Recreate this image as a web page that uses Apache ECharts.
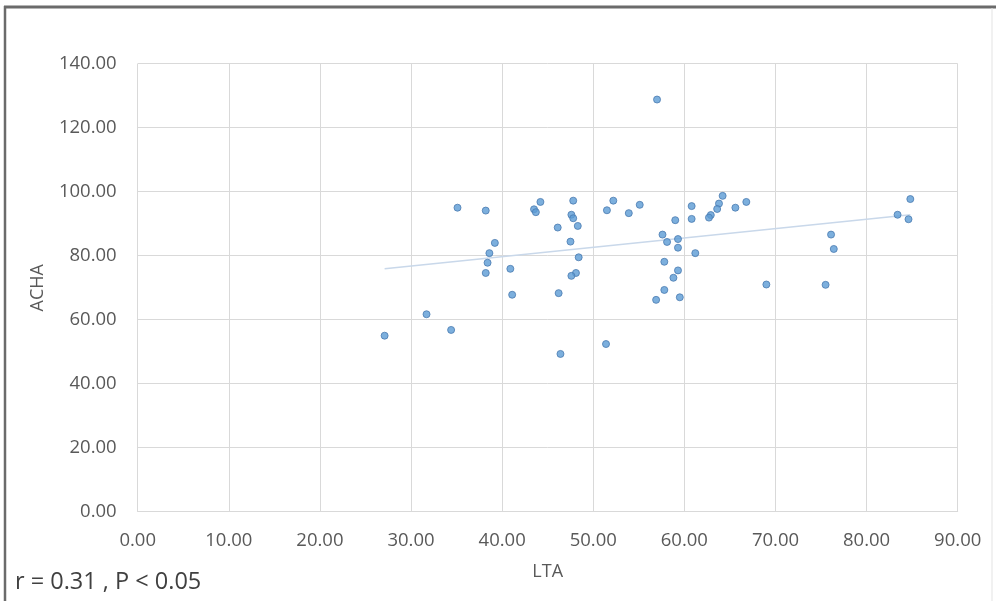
<!DOCTYPE html>
<html>
<head>
<meta charset="utf-8">
<script src="https://cdn.jsdelivr.net/npm/echarts@6/dist/echarts.min.js"></script>
<style>
  html, body { margin: 0; padding: 0; background: #ffffff; }
  #chart { width: 997px; height: 601px; }
</style>
</head>
<body>
<div id="chart"></div>
<script>
// LTA (x) values
const ltaValues = [
  35.1, 38.2, 39.2, 38.6, 38.4, 38.2, 40.9, 41.1, 31.7, 34.4,
  27.1, 43.5, 43.7, 44.2, 47.8, 47.6, 47.8, 48.3, 46.1, 47.5,
  48.4, 48.1, 47.6, 46.2, 46.4, 51.4, 51.5, 52.2, 57.0, 53.9,
  55.1, 60.8, 59.0, 60.8, 64.2, 63.8, 63.6, 62.9, 62.7, 65.6,
  66.8, 57.6, 58.1, 59.3, 59.3, 61.2, 57.8, 59.3, 58.8, 57.8,
  56.9, 59.5, 69.0, 76.1, 76.4, 75.5, 84.8, 83.4, 84.6
];
// ACHA (y) values
const achaValues = [
  95.0, 94.1, 84.0, 80.8, 77.8, 74.6, 75.9, 67.8, 61.7, 56.8,
  55.0, 94.5, 93.6, 96.8, 97.2, 92.8, 91.7, 89.3, 88.8, 84.4,
  79.5, 74.6, 73.7, 68.3, 49.3, 52.4, 94.2, 97.2, 128.8, 93.3,
  95.9, 95.5, 91.1, 91.5, 98.7, 96.3, 94.6, 92.7, 91.9, 95.0,
  96.8, 86.6, 84.3, 85.2, 82.5, 80.8, 78.1, 75.4, 73.1, 69.3,
  66.2, 67.0, 71.0, 86.6, 82.1, 70.9, 97.7, 92.8, 91.4
];
// linear trendline: [LTA, ACHA] at its two ends
const trendStart = [27.1, 75.9];
const trendEnd = [84.8, 92.8];
const xAxisTicks = [0, 10, 20, 30, 40, 50, 60, 70, 80, 90];
const yAxisTicks = [0, 20, 40, 60, 80, 100, 120, 140];
const xAxisTitle = 'LTA';
const yAxisTitle = 'ACHA';
const statText = 'r = 0.31 , P < 0.05';

const points = ltaValues.map((x, i) => [x, achaValues[i]]);
const trend = [trendStart, trendEnd];

const font = '"Open Sans", "Noto Sans", sans-serif';
const chart = echarts.init(document.getElementById('chart'), null, { renderer: 'canvas' });
chart.setOption({
  animation: false,
  backgroundColor: '#ffffff',
  grid: { left: 137.7, right: 39.3, top: 63.7, bottom: 89.3, containLabel: false },
  xAxis: {
    type: 'value',
    min: xAxisTicks[0], max: xAxisTicks[xAxisTicks.length - 1], interval: 10,
    name: xAxisTitle, nameLocation: 'middle', nameGap: 51,
    nameTextStyle: { color: '#595959', fontSize: 18, fontFamily: font },
    axisLine: { show: true, lineStyle: { color: '#d9d9d9', width: 1 } },
    axisTick: { show: false },
    axisLabel: { color: '#595959', fontSize: 18.5, fontFamily: font, margin: 20,
      formatter: v => v.toFixed(2) },
    splitLine: { show: true, lineStyle: { color: '#d9d9d9', width: 1 } }
  },
  yAxis: {
    type: 'value',
    min: yAxisTicks[0], max: yAxisTicks[yAxisTicks.length - 1], interval: 20,
    name: yAxisTitle, nameLocation: 'middle', nameGap: 91, nameRotate: 90,
    nameTextStyle: { color: '#595959', fontSize: 18, fontFamily: font },
    axisLine: { show: false },
    axisTick: { show: false },
    axisLabel: { color: '#595959', fontSize: 18.5, fontFamily: font, margin: 21,
      formatter: v => v.toFixed(2) },
    splitLine: { show: true, lineStyle: { color: '#d9d9d9', width: 1 } }
  },
  graphic: [
    { type: 'line', shape: { x1: 4, y1: 7, x2: 996, y2: 7 },
      style: { stroke: '#6b6b6b', lineWidth: 3 }, silent: true },
    { type: 'line', shape: { x1: 5, y1: 6, x2: 5, y2: 601 },
      style: { stroke: '#6b6b6b', lineWidth: 2.5 }, silent: true },
    { type: 'line', shape: { x1: 992, y1: 8, x2: 992, y2: 601 },
      style: { stroke: '#e3e3e3', lineWidth: 1 }, silent: true },
    { type: 'text', left: 15, top: 570,
      style: { text: statText, fill: '#404040', fontSize: 23.5, fontFamily: font } }
  ],
  series: [
    {
      type: 'line', data: trend, symbol: 'none', silent: true, z: 1,
      lineStyle: { color: '#c9d8ea', width: 1.5 }
    },
    {
      type: 'scatter', data: points, symbol: 'circle', symbolSize: 7, z: 2,
      itemStyle: { color: '#5b9bd5', borderColor: '#4a7bb0', borderWidth: 1 }
    }
  ]
});
</script>
</body>
</html>
